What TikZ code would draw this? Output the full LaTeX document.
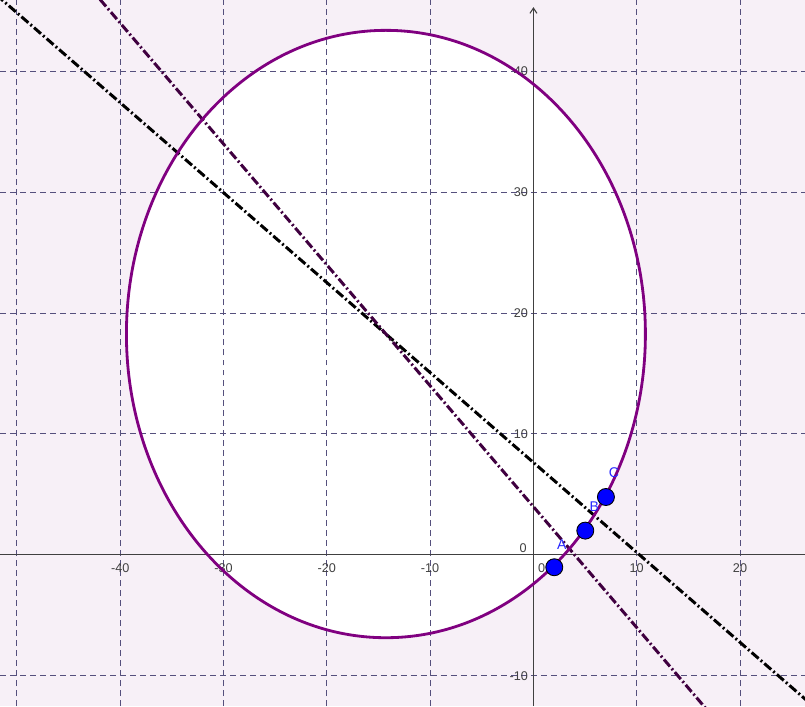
\documentclass[tikz,border=0pt]{standalone}
\usepackage{fontspec}
\setsansfont{Liberation Sans}
\usetikzlibrary{arrows.meta}
\definecolor{bgpink}{RGB}{247,240,247}
\definecolor{gridcol}{RGB}{85,80,125}
\definecolor{circcol}{RGB}{128,0,128}
\definecolor{bisdark}{RGB}{64,0,64}
\definecolor{axiscol}{RGB}{64,64,64}
\definecolor{ptblue}{RGB}{0,0,255}
\definecolor{lblblue}{RGB}{40,40,255}
\begin{document}
\begin{tikzpicture}[
  x=0.2066cm, y=0.2418cm,
  gridline/.style={draw=gridcol, line width=0.55pt, dash pattern=on 3.4pt off 2.3pt},
  axisline/.style={draw=axiscol, line width=0.6pt},
  ticklabel/.style={text=axiscol, font=\sffamily\fontsize{7.2}{8}\selectfont, inner sep=0pt},
  bisector/.style={line width=1.7pt, dash pattern=on 5.2pt off 1.6pt on 1.1pt off 1.6pt},
  conic/.style={draw=circcol, line width=1.6pt},
  pt/.style={circle, draw=black, fill=ptblue, line width=0.5pt, minimum size=0.34cm, inner sep=0pt},
  ptlabel/.style={text=lblblue, font=\sffamily\fontsize{8}{9}\selectfont, inner sep=0pt}
]
\useasboundingbox (-51.64,-12.51) rectangle (26.29,45.89);
\clip (-51.64,-12.51) rectangle (26.29,45.89);
\fill[bgpink] (-51.64,-12.51) rectangle (26.29,45.89);

% circle centre and its white inside
\coordinate (O) at (-14.28,18.26);
\fill[white] (O) ellipse [x radius=5.19cm, y radius=6.074cm];

% grid
\foreach \gx in {-50,-40,-30,-20,-10,10,20}
  \draw[gridline] (\gx,-12.51) -- (\gx,45.89);
\foreach \gy in {-10,10,20,30,40}
  \draw[gridline] (-51.64,\gy) -- (26.29,\gy);

% axes
\coordinate (xl) at (-51.64,0);
\coordinate (xr) at (26.29,0);
\coordinate (yb) at (0,-12.51);
\coordinate (yt) at (0,45.3);
\draw[axisline] (xl) -- (xr);
\draw[axisline, -{Straight Barb[length=3pt,width=4pt]}] (yb) -- (yt);

\foreach \v in {-40,-30,-20,-10,10,20}
  \node[ticklabel] (x\v) at (\v,-1.1) {\v};
\foreach \v in {-10,10,20,30,40}
  \node[ticklabel, anchor=east] (y\v) at (-0.5,\v) {\v};
\node[ticklabel] (x0) at (0.8,-1.1) {0};
\node[ticklabel] (y0) at (-1.0,0.56) {0};

% bisectors
\coordinate (bk1) at (-52,46.32);
\coordinate (bk2) at (27,-12.45);
\coordinate (pp1) at (-43,46.98);
\coordinate (pp2) at (17,-13.02);
\draw[bisector, black] (bk1) -- (bk2);
\draw[bisector, bisdark] (pp1) -- (pp2);

% circle
\draw[conic] (O) ellipse [x radius=5.19cm, y radius=6.074cm];

% points
\node[pt] (A) at (2.02,-1.03) {};
\node[pt] (B) at (5.02,2.0) {};
\node[pt] (C) at (7.02,4.78) {};
\node[ptlabel] (lA) at ([xshift=0.15cm,yshift=0.46cm]A.center) {A};
\node[ptlabel] (lB) at ([xshift=0.18cm,yshift=0.48cm]B.center) {B};
\node[ptlabel] (lC) at ([xshift=0.16cm,yshift=0.49cm]C.center) {C};
\end{tikzpicture}
\end{document}
